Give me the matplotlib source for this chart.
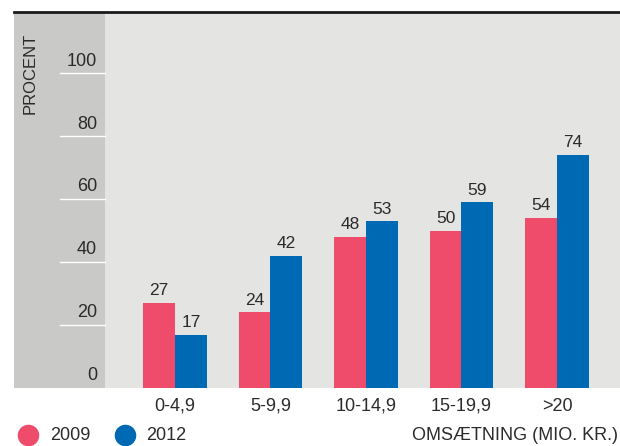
import matplotlib.pyplot as plt
from matplotlib.lines import Line2D
import numpy as np

# --- data ---
categories = ["0-4,9", "5-9,9", "10-14,9", "15-19,9", ">20"]
y2009 = [27, 24, 48, 50, 54]
y2012 = [17, 42, 53, 59, 74]
yticks = [0, 20, 40, 60, 80, 100]

pink = "#ef4c6c"
blue = "#0069b4"
txt = "#2b2b2b"
plt.rcParams["font.family"] = ["Liberation Sans", "DejaVu Sans"]

fig = plt.figure(figsize=(6.2, 4.46), dpi=100)
W, H = 620, 446
ax = fig.add_axes([14 / W, (H - 388) / H, (620 - 14) / W, (388 - 12) / H])
ax.set_facecolor("#e4e4e3")

x = np.arange(len(categories))
w = 1 / 3
ax.set_xlim(-1.686, 4.66)
ax.set_ylim(0, 119.5)

# --- left band with ticks ---
ax.axvspan(-1.686, -0.733, color="#c9c9c8", lw=0, zorder=0)
for t in yticks[1:]:
    ax.plot([-1.204, -0.733], [t, t], color="white", lw=1, zorder=1)
for t in yticks:
    ax.text(-0.815, t + 1.2, str(t), ha="right", va="bottom", fontsize=13, color=txt)
ax.text(-1.52, 100, "PROCENT", rotation=90, ha="center", va="center", fontsize=12, color=txt)

# --- bars ---
ax.bar(x - w / 2, y2009, w, color=pink, zorder=2)
ax.bar(x + w / 2, y2012, w, color=blue, zorder=2)
for i in range(len(categories)):
    ax.text(x[i] - w / 2, y2009[i] + 1.5, str(y2009[i]), ha="center", va="bottom", fontsize=12.5, color=txt)
    ax.text(x[i] + w / 2, y2012[i] + 1.5, str(y2012[i]), ha="center", va="bottom", fontsize=12.5, color=txt)

ax.set_xticks(x)
ax.set_xticklabels(categories, fontsize=13, color=txt)
ax.tick_params(axis="x", length=0, pad=7)
ax.set_yticks([])
for s in ["left", "right", "bottom"]:
    ax.spines[s].set_visible(False)
ax.spines["top"].set_linewidth(2)
ax.spines["top"].set_color("#1a1a1a")

# --- legend / axis title ---
ly = (H - 435) / H
fig.add_artist(Line2D([28 / W], [ly], marker="o", markersize=14.5, color=pink, lw=0))
fig.add_artist(Line2D([125 / W], [ly], marker="o", markersize=14.5, color=blue, lw=0))
fig.text(50 / W, ly, "2009", color=txt, fontsize=13, va="center", ha="left")
fig.text(146 / W, ly, "2012", color=txt, fontsize=13, va="center", ha="left")
fig.text(618 / W, ly, "OMSÆTNING (MIO. KR.)", color=txt, fontsize=13, va="center", ha="right")

plt.savefig("out.png", dpi=100)
